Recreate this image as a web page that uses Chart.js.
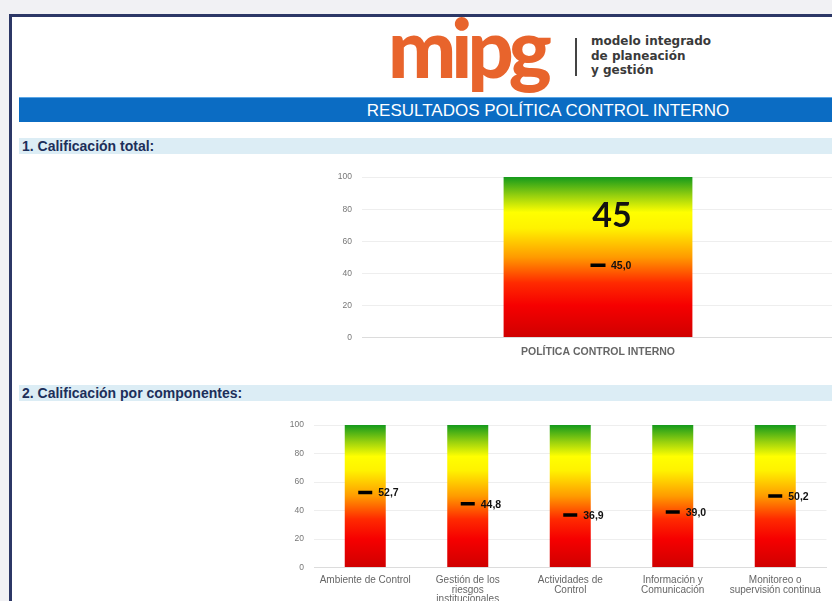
<!DOCTYPE html>
<html lang="es">
<head>
<meta charset="utf-8">
<title>Resultados Política Control Interno</title>
<script src="https://cdn.jsdelivr.net/npm/chart.js@4.4.0/dist/chart.umd.min.js"></script>
<style>
  html, body { margin: 0; padding: 0; }
  body {
    width: 832px; height: 601px; overflow: hidden; position: relative;
    background: #f1f1f4; font-family: "Liberation Sans", Arial, sans-serif;
  }
  #marco {
    position: absolute; left: 9px; top: 14px; width: 900px; height: 700px;
    background: #fff; border-left: 3px solid #2c3766; border-top: 3px solid #2c3766;
  }
  .abs { position: absolute; }
  #logo {
    left: 388px; top: 6px; font-family: Lato, "DejaVu Sans", sans-serif; font-weight: 900;
    font-size: 81px; color: #e8642c; letter-spacing: -5px; line-height: 1;
  }
  #logo-sep { left: 575px; top: 38px; width: 2px; height: 38px; background: #444; }
  #logo-txt {
    left: 591px; top: 34px; font-family: "DejaVu Sans", sans-serif; font-weight: bold;
    font-size: 12px; line-height: 14.5px; color: #3a3a3a;
  }
  #banner {
    left: 19px; top: 97px; width: 830px; height: 25px; background: #0b6cc3;
    border-top: 1px solid #5aa6e6; color: #fff; text-align: center;
    font-family: "Liberation Sans Narrow", "Arial Narrow", sans-serif; font-size: 17px;
    line-height: 25px; box-sizing: border-box; padding-left: 228px;
  }
  .seccion {
    left: 19px; width: 830px; height: 16px; background: #dcedf5; color: #1c2f5a;
    font-weight: bold; font-size: 14px; line-height: 16px; padding-left: 3px; box-sizing: border-box;
  }
  #c1 { left: 330px; top: 162px; width: 515px; height: 196px; }
  #c2 { left: 286px; top: 410px; width: 551px; height: 194px; }
</style>
</head>
<body>
<div id="marco"></div>
<div id="logo" class="abs">mipg</div>
<div id="logo-sep" class="abs"></div>
<div id="logo-txt" class="abs">modelo integrado<br>de planeación<br>y gestión</div>
<div id="banner" class="abs">RESULTADOS POLÍTICA CONTROL INTERNO</div>
<div class="abs seccion" style="top:138px">1. Calificación total:</div>
<div class="abs seccion" style="top:385px">2. Calificación por componentes:</div>
<div id="c1" class="abs"><canvas id="chartTotal"></canvas></div>
<div id="c2" class="abs"><canvas id="chartComp"></canvas></div>

<script>
// Datos
const categoriasTotal = ['POLÍTICA CONTROL INTERNO'];
const rangoTotal = [100];
const calificacionTotal = [45.0];
const totalGrande = '45';

const categoriasComp = [
    'Ambiente de Control',
    ['Gestión de los', 'riesgos', 'institucionales'],
    ['Actividades de', 'Control'],
    ['Información y', 'Comunicación'],
    ['Monitoreo o', 'supervisión continua']
];
const rangoComp = [100, 100, 100, 100, 100];
const calificacionComp = [52.7, 44.8, 36.9, 39.0, 50.2];

const ticksY = [0, 20, 40, 60, 80, 100];

// Degradado verde-amarillo-rojo según la escala
function degradado(context) {
    const chart = context.chart;
    const y = chart.scales.y;
    if (!chart.chartArea || !y) return '#f00';
    const g = chart.ctx.createLinearGradient(0, y.getPixelForValue(100), 0, y.getPixelForValue(0));
    g.addColorStop(0.00, '#159a1c');
    g.addColorStop(0.12, '#9bd20e');
    g.addColorStop(0.22, '#ffff00');
    g.addColorStop(0.32, '#fff200');
    g.addColorStop(0.50, '#ff9a00');
    g.addColorStop(0.66, '#ff2a00');
    g.addColorStop(0.80, '#f60000');
    g.addColorStop(1.00, '#cf0000');
    return g;
}

// Etiquetas junto a los marcadores y número grande
const etiquetas = {
    id: 'etiquetas',
    afterDatasetsDraw(chart, args, opts) {
        const ctx = chart.ctx;
        const meta = chart.getDatasetMeta(1);
        const datos = chart.data.datasets[1].data;
        ctx.save();
        ctx.fillStyle = '#111';
        ctx.font = 'bold 10.5px "Liberation Sans", Arial, sans-serif';
        ctx.textBaseline = 'middle';
        ctx.textAlign = 'left';
        meta.data.forEach((pt, i) => {
            ctx.fillText(datos[i].toFixed(1).replace('.', ','), pt.x + 13, pt.y + 1);
        });
        if (opts.grande) {
            const bar = chart.getDatasetMeta(0).data[0];
            ctx.font = 'bold 34px Lato, "Open Sans", sans-serif';
            ctx.textAlign = 'center';
            ctx.fillText(opts.grande, bar.x + 14, chart.scales.y.getPixelForValue(76));
        }
        ctx.restore();
    }
};

function opciones(anchoY, fuenteX, grande) {
    return {
        responsive: true,
        maintainAspectRatio: false,
        animation: false,
        layout: { padding: { top: 4, right: 0, left: 0, bottom: 0 } },
        plugins: {
            legend: { display: false },
            tooltip: { enabled: false },
            etiquetas: { grande: grande }
        },
        scales: {
            x: {
                grid: { display: false },
                border: { color: '#dcdcdc' },
                ticks: { color: '#666', font: fuenteX, maxRotation: 0, autoSkip: false, padding: 0 }
            },
            y: {
                min: 0, max: 100,
                afterBuildTicks: (s) => { s.ticks = ticksY.map(v => ({ value: v })); },
                afterFit: (s) => { s.width = anchoY; },
                grid: { color: '#eeeeee', drawTicks: false },
                border: { display: false },
                ticks: { color: '#777', font: { size: 8.5 }, padding: 10 }
            }
        }
    };
}

function crear(id, categorias, rango, valores, anchoY, radio, fuenteX, grande) {
    return new Chart(document.getElementById(id), {
        type: 'bar',
        data: {
            labels: categorias,
            datasets: [{
                data: rango,
                backgroundColor: degradado,
                borderWidth: 0,
                categoryPercentage: 1,
                barPercentage: 0.4,
                order: 2
            }, {
                type: 'line',
                data: valores,
                showLine: false,
                pointStyle: 'line',
                pointRadius: radio,
                pointBorderWidth: 3.5,
                pointBorderColor: '#000',
                order: 1
            }]
        },
        options: opciones(anchoY, fuenteX, grande),
        plugins: [etiquetas]
    });
}

crear('chartTotal', categoriasTotal, rangoTotal, calificacionTotal, 32, 7.5,
      { size: 10.5, weight: 'bold' }, totalGrande);
crear('chartComp', categoriasComp, rangoComp, calificacionComp, 28, 7,
      { size: 10, lineHeight: 0.95 }, null);
</script>
</body>
</html>
